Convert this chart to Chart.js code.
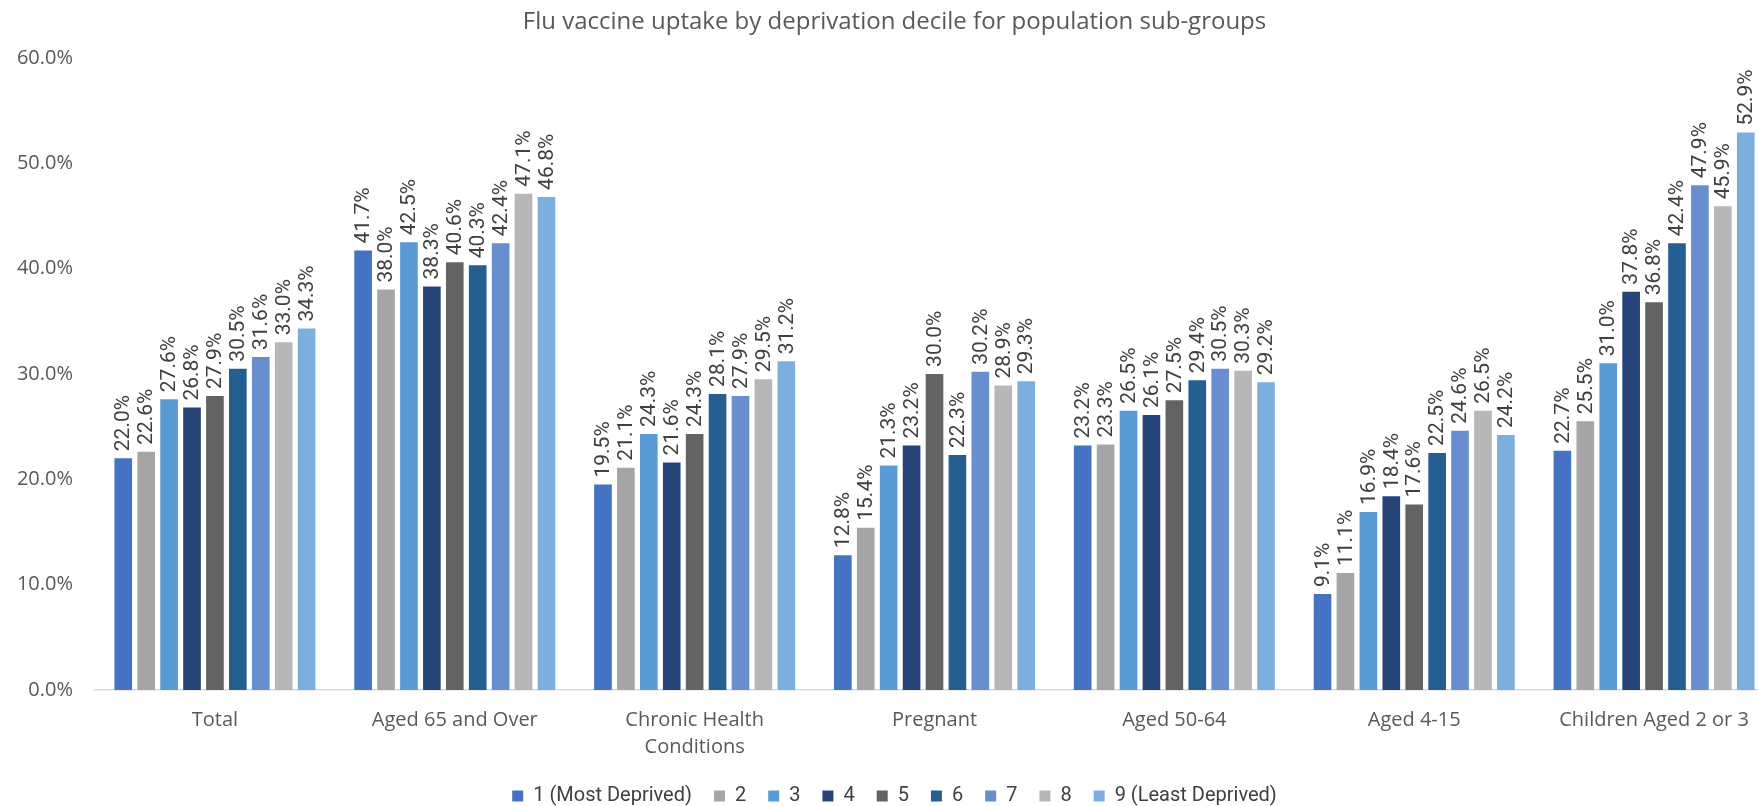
<!DOCTYPE html>
<html>
<head>
<meta charset="utf-8">
<script src="https://cdn.jsdelivr.net/npm/chart.js@4"></script>
<style>
  html, body { margin: 0; padding: 0; background: #fff; overflow: hidden; }
  #wrap { width: 1774px; height: 806px; position: relative; }
</style>
</head>
<body>
<div id="wrap"><canvas id="graph"></canvas></div>
<script>
// categories (population sub-groups)
const groups = ["Total", "Aged 65 and Over", ["Chronic Health", "Conditions"], "Pregnant", "Aged 50-64", "Aged 4-15", "Children Aged 2 or 3"];

// uptake (%) per deprivation decile, one value per group
const decile1 = [22.0, 41.7, 19.5, 12.8, 23.2, 9.1, 22.7];
const decile2 = [22.6, 38.0, 21.1, 15.4, 23.3, 11.1, 25.5];
const decile3 = [27.6, 42.5, 24.3, 21.3, 26.5, 16.9, 31.0];
const decile4 = [26.8, 38.3, 21.6, 23.2, 26.1, 18.4, 37.8];
const decile5 = [27.9, 40.6, 24.3, 30.0, 27.5, 17.6, 36.8];
const decile6 = [30.5, 40.3, 28.1, 22.3, 29.4, 22.5, 42.4];
const decile7 = [31.6, 42.4, 27.9, 30.2, 30.5, 24.6, 47.9];
const decile8 = [33.0, 47.1, 29.5, 28.9, 30.3, 26.5, 45.9];
const decile9 = [34.3, 46.8, 31.2, 29.3, 29.2, 24.2, 52.9];

const decileNames = ["1 (Most Deprived)", "2", "3", "4", "5", "6", "7", "8", "9 (Least Deprived)"];
const decileColors = ["#4472C4", "#A5A5A5", "#5B9BD5", "#264478", "#636363", "#255E91", "#698ED0", "#B7B7B7", "#7CAFDD"];
const allValues = [decile1, decile2, decile3, decile4, decile5, decile6, decile7, decile8, decile9];

// value labels written upwards above each bar
const barLabels = {
	id: "barLabels",
	afterDatasetsDraw(chart) {
		const ctx = chart.ctx;
		ctx.save();
		ctx.font = "21px Roboto";
		ctx.fillStyle = "#404040";
		ctx.textAlign = "left";
		ctx.textBaseline = "middle";
		chart.data.datasets.forEach((ds, i) => {
			chart.getDatasetMeta(i).data.forEach((bar, j) => {
				ctx.save();
				ctx.translate(bar.x + 1, bar.y - 7);
				ctx.rotate(-Math.PI / 2);
				ctx.fillText(ds.data[j].toFixed(1) + "%", 0, 0);
				ctx.restore();
			});
		});
		ctx.restore();
	}
};

const datasets = allValues.map((values, i) => ({
	label: decileNames[i],
	data: values,
	backgroundColor: decileColors[i],
	categoryPercentage: 0.86,
	barPercentage: 0.77
}));

new Chart(document.getElementById("graph"), {
	type: "bar",
	data: { labels: groups, datasets: datasets },
	plugins: [barLabels],
	options: {
		responsive: true,
		maintainAspectRatio: false,
		animation: false,
		layout: { padding: { left: 15, right: 0, top: 0, bottom: -10 } },
		plugins: {
			title: {
				display: true,
				text: "Flu vaccine uptake by deprivation decile for population sub-groups",
				color: "#595959",
				font: { family: "'Open Sans'", size: 24, weight: "normal" },
				padding: { top: 8, bottom: 21 }
			},
			legend: {
				position: "bottom",
				labels: {
					color: "#404040",
					font: { family: "Roboto", size: 20 },
					boxWidth: 11,
					boxHeight: 11,
					padding: 22
				}
			},
			tooltip: { enabled: false }
		},
		scales: {
			x: {
				grid: { display: false, drawTicks: false },
				border: { display: true, color: "#D9D9D9", width: 1.5 },
				ticks: {
					color: "#595959",
					font: { family: "'Open Sans'", size: 20, lineHeight: 1.35 },
					maxRotation: 0,
					padding: 17
				},
				afterFit: (scale) => { scale.height = 74; }
			},
			y: {
				min: 0,
				max: 60,
				grid: { display: false, drawTicks: false },
				border: { display: false },
				ticks: {
					stepSize: 10,
					color: "#595959",
					font: { family: "'Open Sans'", size: 20 },
					padding: 22,
					callback: (v) => v.toFixed(1) + "%"
				},
				afterFit: (scale) => { scale.width = 80; }
			}
		}
	}
});
</script>
</body>
</html>
